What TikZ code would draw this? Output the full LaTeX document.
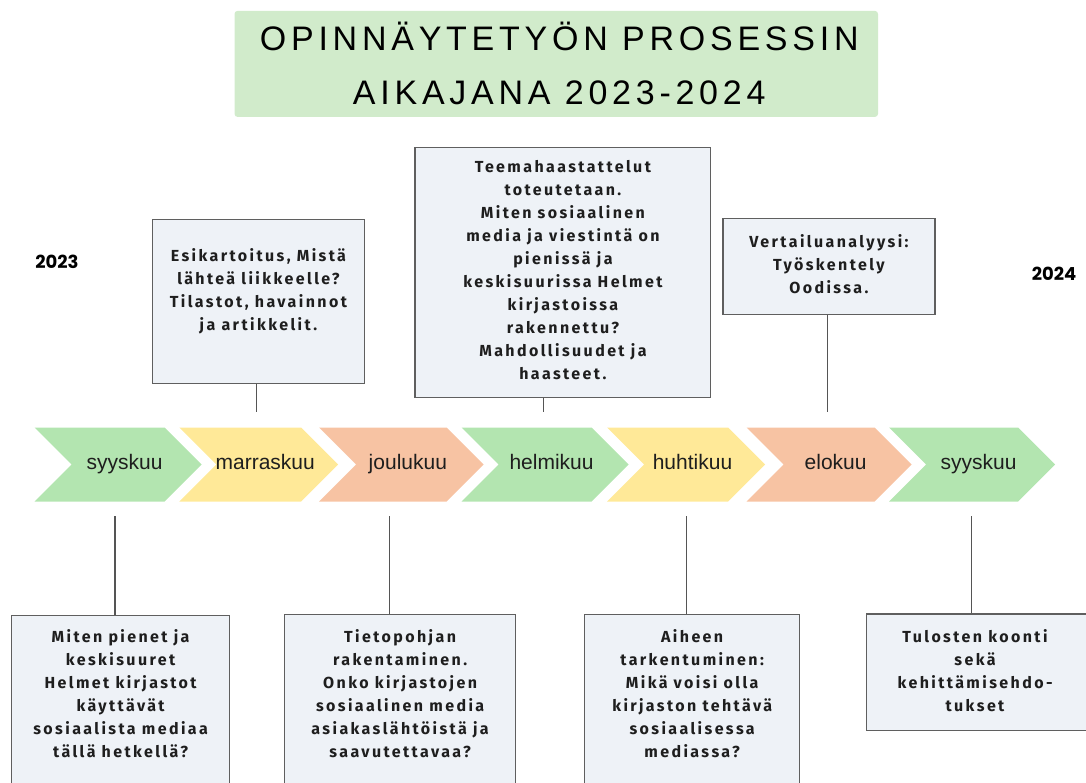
\documentclass[tikz,border=0pt]{standalone}
\usepackage{fontspec}
\usetikzlibrary{positioning}

\newfontfamily\titlefont[LetterSpace=14]{Liberation Sans}
\newfontfamily\monthfont{Liberation Sans}
\newfontfamily\boxfont[LetterSpace=15]{Fira Sans}
\newfontfamily\yearfont{Poppins}

\definecolor{titlegreen}{HTML}{D1EBCB}
\definecolor{chgreen}{HTML}{B3E5B0}
\definecolor{chyellow}{HTML}{FFE998}
\definecolor{chorange}{HTML}{F7C3A3}
\definecolor{boxfill}{HTML}{EEF2F7}
\definecolor{boxline}{HTML}{5F5F5F}
\definecolor{linkgray}{HTML}{555555}
\definecolor{textdark}{HTML}{1E1E1E}

\tikzset{
  infobox/.style={draw=boxline, fill=boxfill, line width=1.2pt, anchor=north west, inner sep=0pt},
  infotext/.style={font=\boxfont\bfseries\fontsize{16}{23}\selectfont, align=center, anchor=north, inner sep=0pt, text=textdark},
  monthtext/.style={font=\monthfont\fontsize{21}{24}\selectfont, text=textdark, text height=15, text depth=5, inner sep=0pt},
  yeartext/.style={font=\yearfont\bfseries\fontsize{18}{22}\selectfont, text=black},
  link/.style={draw=linkgray, line width=1.2pt}
}

\begin{document}
\begin{tikzpicture}[x=1pt,y=-1pt]
  \useasboundingbox (0,0) rectangle (1086,783);
  \clip (0,0) rectangle (1086,783);

  % otsikko
  \node[fill=titlegreen, rounded corners=3pt, minimum width=643.5, minimum height=106, anchor=north west, inner sep=0pt] (otsikkolaatikko) at (234.3,10.7) {};
  \node[font=\titlefont\fontsize{34}{54}\selectfont, align=center, inner sep=0pt] (otsikko) at ([xshift=3]otsikkolaatikko.center) {OPINNÄYTETYÖN PROSESSIN\\AIKAJANA 2023-2024};

  \node[yeartext] (vuosi2023) at (57,262) {2023};
  \node[yeartext] (vuosi2024) at (1054,274) {2024};

  % nuolet
  \foreach \l/\r/\c/\m [count=\i] in {34.6/164.5/chgreen/syyskuu, 179.4/301/chyellow/marraskuu, 319/446.7/chorange/joulukuu, 461.6/591.5/chgreen/helmikuu, 607/728/chyellow/huhtikuu, 746.6/874.7/chorange/elokuu, 889/1018/chgreen/syyskuu}{
    \fill[\c] (\l,427.5) -- (\r,427.5) -- (\r+37,464.5) -- (\r,501.5) -- (\l,501.5) -- (\l+37,464.5) -- cycle;
    \node[monthtext] (kk\i) at ({(\l+\r)/2+25},464.5) {\m};
  }

  % ylalaatikot
  \node[infobox, minimum width=212.3, minimum height=163.7] (esikartoitus) at (151.7,219) {};
  \node[infotext] (esikartoitusteksti) at ([yshift=-29]esikartoitus.north) {Esikartoitus, Mistä\\lähteä liikkeelle?\\Tilastot, havainnot\\ja artikkelit.};

  \node[infobox, minimum width=295.8, minimum height=250] (haastattelut) at (414.4,146.7) {};
  \node[infotext] (haastattelutteksti) at ([yshift=-13]haastattelut.north) {Teemahaastattelut\\toteutetaan.\\Miten sosiaalinen\\media ja viestintä on\\pienissä ja\\keskisuurissa Helmet\\kirjastoissa\\rakennettu?\\Mahdollisuudet ja\\haasteet.};

  \node[infobox, minimum width=212, minimum height=95.7] (vertailu) at (722.3,218.3) {};
  \node[infotext] (vertailuteksti) at ([yshift=-16]vertailu.north) {Vertailuanalyysi:\\Työskentely\\Oodissa.};

  % alalaatikot
  \node[infobox, minimum width=218, minimum height=200] (nykytila) at (11,615) {};
  \node[infotext] (nykytilateksti) at ([yshift=-14]nykytila.north) {Miten pienet ja\\keskisuuret\\Helmet kirjastot\\käyttävät\\sosiaalista mediaa\\tällä hetkellä?};

  \node[infobox, minimum width=231, minimum height=200] (tietopohja) at (284,614) {};
  \node[infotext] (tietopohjateksti) at ([yshift=-15]tietopohja.north) {Tietopohjan\\rakentaminen.\\Onko kirjastojen\\sosiaalinen media\\asiakaslähtöistä ja\\saavutettavaa?};

  \node[infobox, minimum width=215.3, minimum height=200] (tarkennus) at (583.9,614) {};
  \node[infotext] (tarkennusteksti) at ([yshift=-15]tarkennus.north) {Aiheen\\tarkentuminen:\\Mikä voisi olla\\kirjaston tehtävä\\sosiaalisessa\\mediassa?};

  \node[infobox, minimum width=240, minimum height=116.7] (tulokset) at (865.7,613.3) {};
  \node[infotext] (tuloksetteksti) at (975,629) {Tulosten koonti\\sekä\\kehittämisehdo-\\tukset};

  % viivat
  \coordinate (esikartoitusala) at (256.7,412);
  \coordinate (haastattelutala) at (543.7,412);
  \coordinate (vertailuala) at (827.3,412);
  \draw[link] (esikartoitus.south -| esikartoitusala) -- (esikartoitusala);
  \draw[link] (haastattelut.south -| haastattelutala) -- (haastattelutala);
  \draw[link] (vertailu.south -| vertailuala) -- (vertailuala);

  \coordinate (nykytilayla) at (115,516);
  \coordinate (tietopohjayla) at (389.5,516);
  \coordinate (tarkennusyla) at (686.7,516);
  \coordinate (tuloksetyla) at (971.3,516);
  \draw[link] (nykytilayla) -- (nykytila.north -| nykytilayla);
  \draw[link] (tietopohjayla) -- (tietopohja.north -| tietopohjayla);
  \draw[link] (tarkennusyla) -- (tarkennus.north -| tarkennusyla);
  \draw[link] (tuloksetyla) -- (tulokset.north -| tuloksetyla);
\end{tikzpicture}
\end{document}
